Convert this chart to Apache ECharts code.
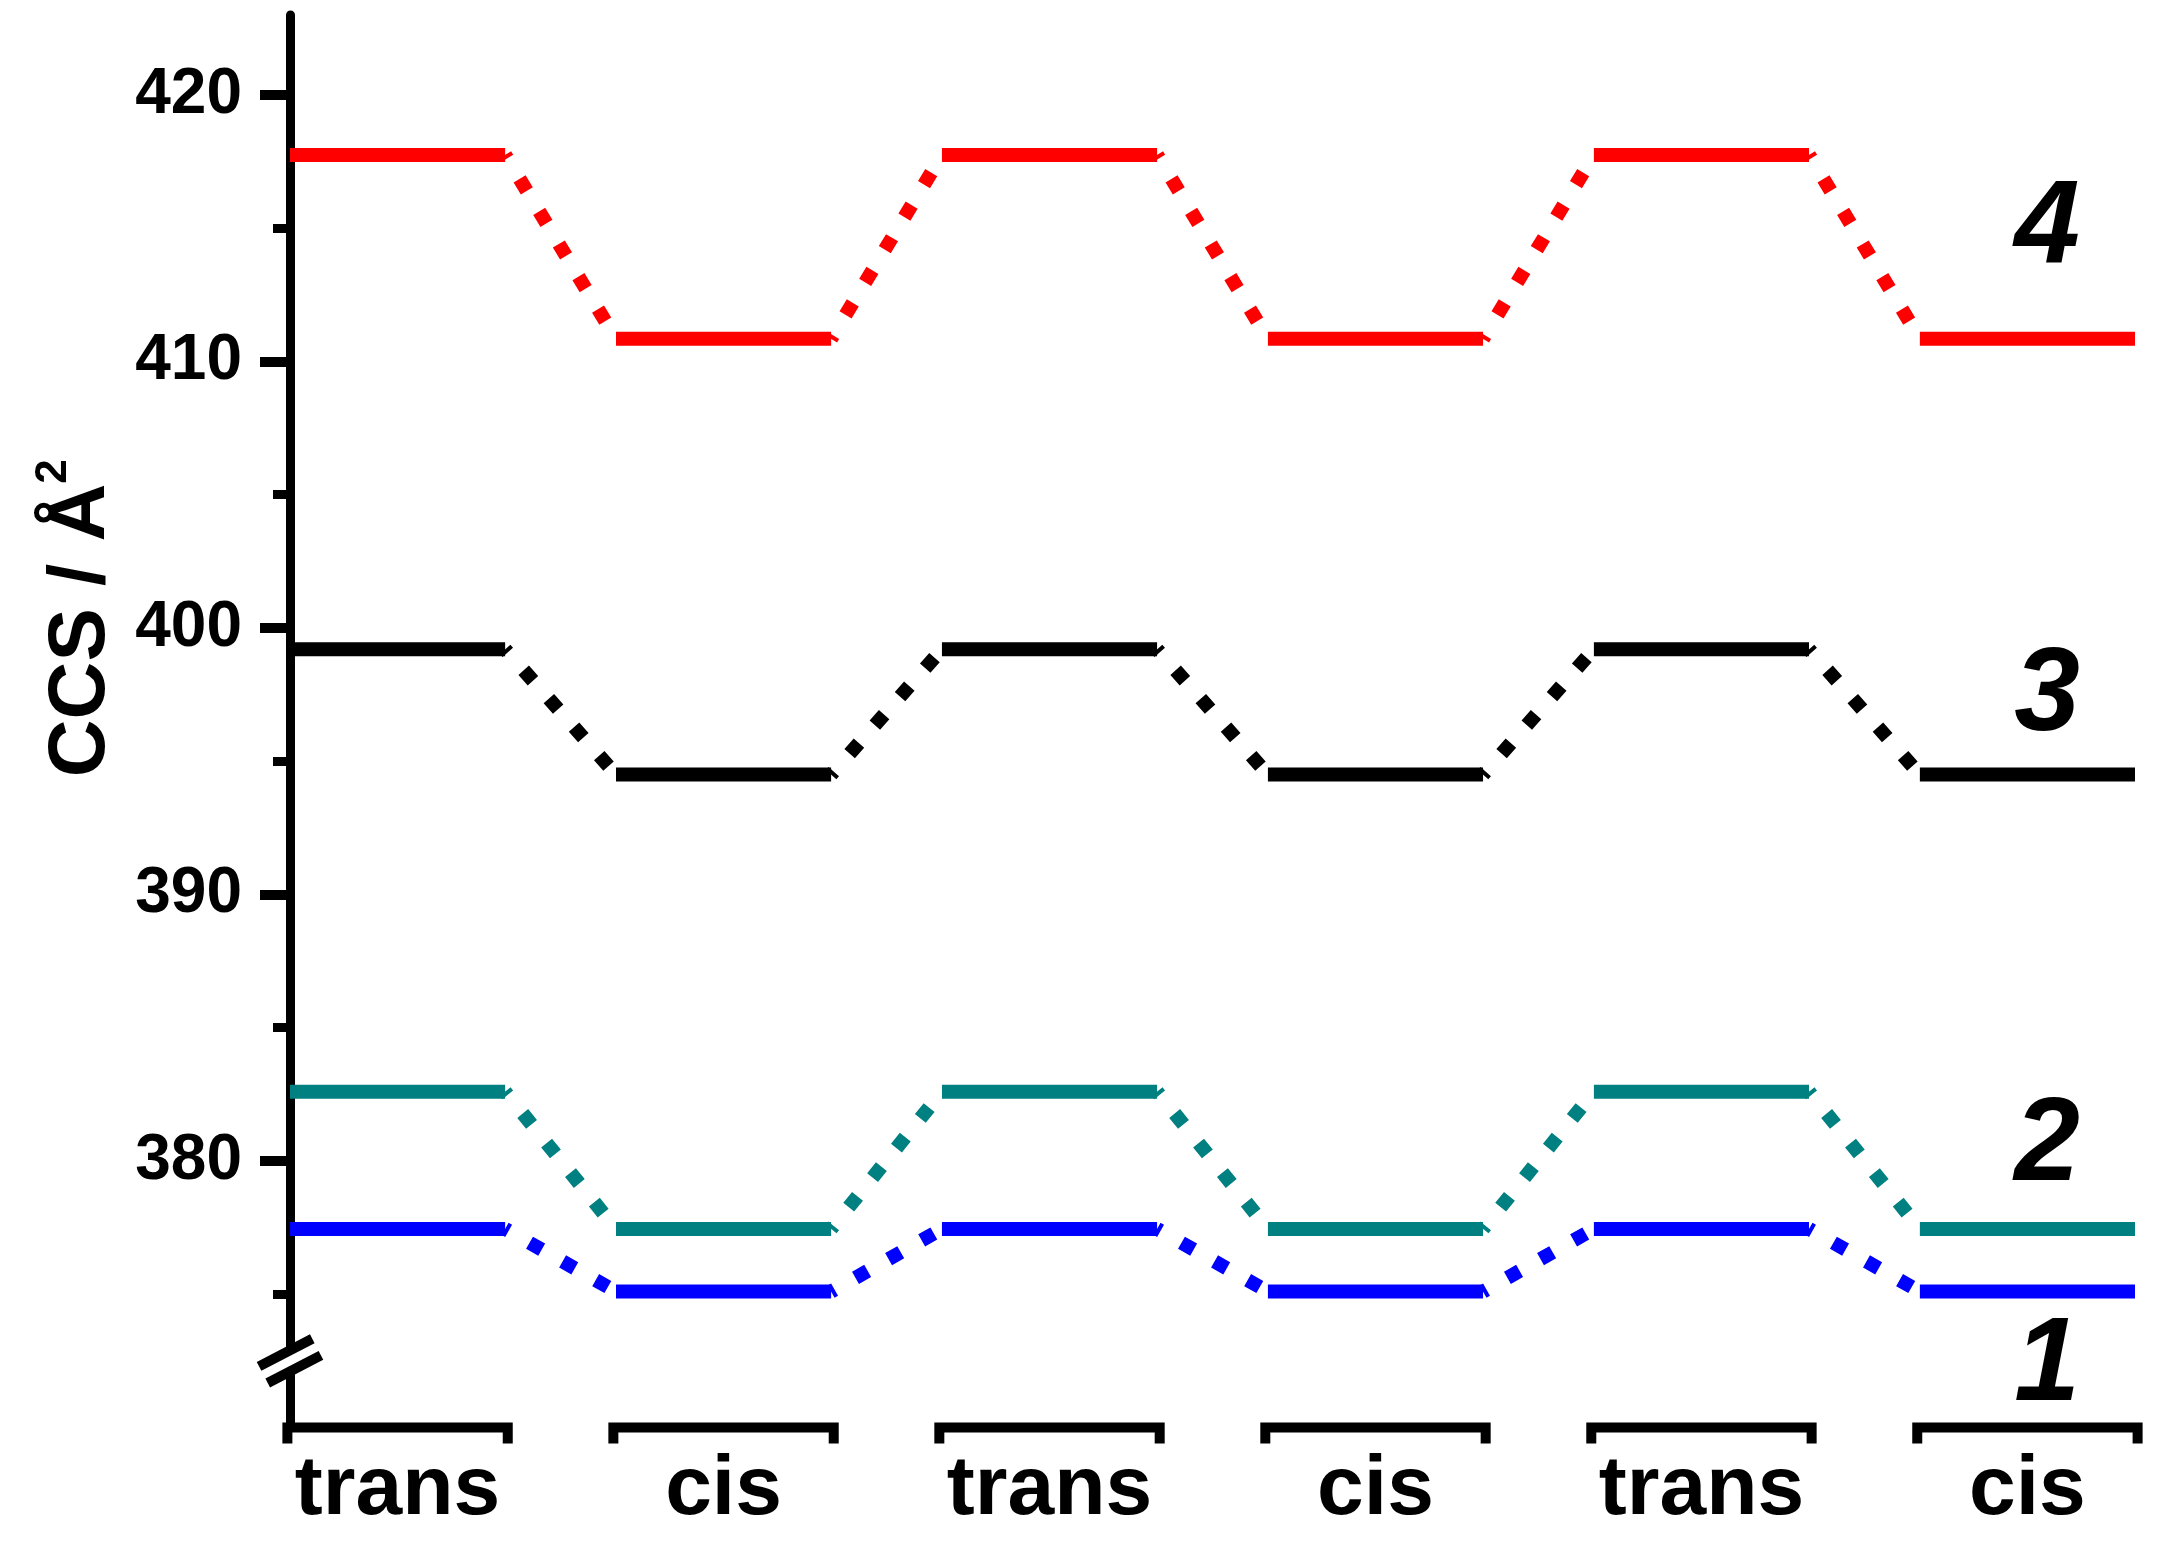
<!DOCTYPE html>
<html><head><meta charset="utf-8">
<script src="https://cdn.jsdelivr.net/npm/echarts@6/dist/echarts.min.js"></script>
<style>html,body{margin:0;padding:0;background:#fff}#c{width:2168px;height:1546px}</style>
</head><body><div id="c"></div>
<script>
// ---- data ----
const categories = ['trans', 'cis', 'trans', 'cis', 'trans', 'cis'];
const compound1 = [377.45, 375.1, 377.45, 375.1, 377.45, 375.1];   // blue
const compound2 = [382.6, 377.45, 382.6, 377.45, 382.6, 377.45];   // teal
const compound3 = [399.2, 394.5, 399.2, 394.5, 399.2, 394.5];      // black
const compound4 = [417.75, 410.85, 417.75, 410.85, 417.75, 410.85]; // red
const yTickValues = [380, 390, 400, 410, 420];
const compoundNames = ['1', '2', '3', '4'];
const compoundLabelY = [372.25, 380.5, 397.4, 414.9];
const compoundLabelX = 5.06;
const breakValue = 372.5;
const yMin = 370, yMax = 423;
const xMin = -0.33, xMax = 5.33;

// ---- style ----
const FONT = '"Liberation Sans", Arial, Helvetica, sans-serif';
const colors = ['#0000FF', '#008080', '#000000', '#FF0000'];
const HALF = 0.33;
const BRACKET_HALF = 0.338;

function levelData(vals) {
  const d = [];
  vals.forEach((v, i) => {
    if (i > 0) d.push([i - 0.5, '-']);
    d.push([i - HALF, v], [i + HALF, v]);
  });
  return d;
}
function connectorData(vals) {
  const d = [];
  for (let i = 0; i < vals.length - 1; i++) {
    if (i > 0) d.push([i + 0.5, '-']);
    d.push([i + HALF, vals[i]], [i + 1 - HALF, vals[i + 1]]);
  }
  return d;
}

const series = [];
[compound1, compound2, compound3, compound4].forEach((vals, k) => {
  series.push({
    type: 'line', data: connectorData(vals), symbol: 'none', connectNulls: false,
    silent: true, z: 2,
    lineStyle: { color: colors[k], width: 14, type: [14, 24], dashOffset: 10, cap: 'butt' }
  });
  series.push({
    type: 'line', data: levelData(vals), symbol: 'none', connectNulls: false,
    silent: true, z: 3,
    lineStyle: { color: colors[k], width: 14, cap: 'butt' }
  });
});

// x-axis brackets with trans/cis labels
series.push({
  type: 'custom', clip: false, silent: true, z: 4,
  data: categories.map((c, i) => [i, yMin]),
  renderItem: (params, api) => {
    const i = api.value(0);
    const a = api.coord([i - BRACKET_HALF, api.value(1)]);
    const b = api.coord([i + BRACKET_HALF, api.value(1)]);
    return {
      type: 'group', children: [
        { type: 'polyline', shape: { points: [[a[0], a[1] + 16], [a[0], a[1]], [b[0], b[1]], [b[0], b[1] + 16]] },
          style: { stroke: '#000', lineWidth: 10, fill: null, lineJoin: 'miter' } },
        { type: 'text', x: (a[0] + b[0]) / 2, y: a[1] + 63,
          style: { text: categories[params.dataIndex], fontSize: 84, fontWeight: 'bold', fontFamily: FONT,
                   fill: '#000', align: 'center', verticalAlign: 'middle' } }
      ]
    };
  }
});

// axis break mark
series.push({
  type: 'custom', clip: false, silent: true, z: 5,
  data: [[xMin, breakValue]],
  renderItem: (params, api) => {
    const c = api.coord([api.value(0), api.value(1)]);
    const dx = 0.887, dy = -0.461, px = 0.461, py = 0.887;
    const L = 30, O = 9.4;
    const pt = (s, t) => [c[0] + s * dx + t * px, c[1] + s * dy + t * py];
    return {
      type: 'group', children: [
        { type: 'polygon', shape: { points: [pt(-L, -O), pt(L, -O), pt(L, O), pt(-L, O)] },
          style: { fill: '#fff' } },
        { type: 'line', shape: { x1: pt(-L, -O)[0], y1: pt(-L, -O)[1], x2: pt(L, -O)[0], y2: pt(L, -O)[1] },
          style: { stroke: '#000', lineWidth: 10 } },
        { type: 'line', shape: { x1: pt(-L, O)[0], y1: pt(-L, O)[1], x2: pt(L, O)[0], y2: pt(L, O)[1] },
          style: { stroke: '#000', lineWidth: 10 } }
      ]
    };
  }
});

// compound number labels
series.push({
  type: 'custom', clip: false, silent: true, z: 6,
  data: compoundLabelY.map(v => [compoundLabelX, v]),
  renderItem: (params, api) => {
    const p = api.coord([api.value(0), api.value(1)]);
    return { type: 'text', x: p[0], y: p[1],
      style: { text: compoundNames[params.dataIndex], fontSize: 118, fontWeight: 'bold', fontStyle: 'italic',
               fontFamily: FONT, fill: '#000', align: 'center', verticalAlign: 'middle' } };
  }
});

const chart = echarts.init(document.getElementById('c'), null, { renderer: 'canvas' });
chart.setOption({
  animation: false,
  backgroundColor: '#fff',
  grid: { left: 290, right: 33, top: 15, bottom: 118.5, containLabel: false },
  xAxis: { type: 'value', min: xMin, max: xMax, show: false },
  yAxis: {
    type: 'value', min: yMin, max: yMax, interval: 10,
    axisLine: { show: true, onZero: false, lineStyle: { color: '#000', width: 9 } },
    axisTick: { show: true, length: 30, inside: false, customValues: yTickValues,
                lineStyle: { color: '#000', width: 10 } },
    minorTick: { show: true, splitNumber: 2, length: 17, lineStyle: { color: '#000', width: 9 } },
    axisLabel: { customValues: yTickValues, fontSize: 64, fontWeight: 'bold', color: '#000',
                 fontFamily: FONT, margin: 48, padding: [0, 0, 12, 0],
                 formatter: v => (v === yMin ? '' : String(v)) },
    splitLine: { show: false },
    name: '{a|CCS / Å}{s|2}', nameLocation: 'middle', nameGap: 158,
    nameTextStyle: {
      padding: [0, 0, 0, 206],
      rich: {
        a: { fontSize: 80, fontWeight: 'bold', fontFamily: FONT, color: '#000', lineHeight: 100 },
        s: { fontSize: 44, fontWeight: 'bold', fontFamily: FONT, color: '#000', lineHeight: 44, verticalAlign: 'top' }
      }
    }
  },
  series: series
});
</script>
</body></html>
